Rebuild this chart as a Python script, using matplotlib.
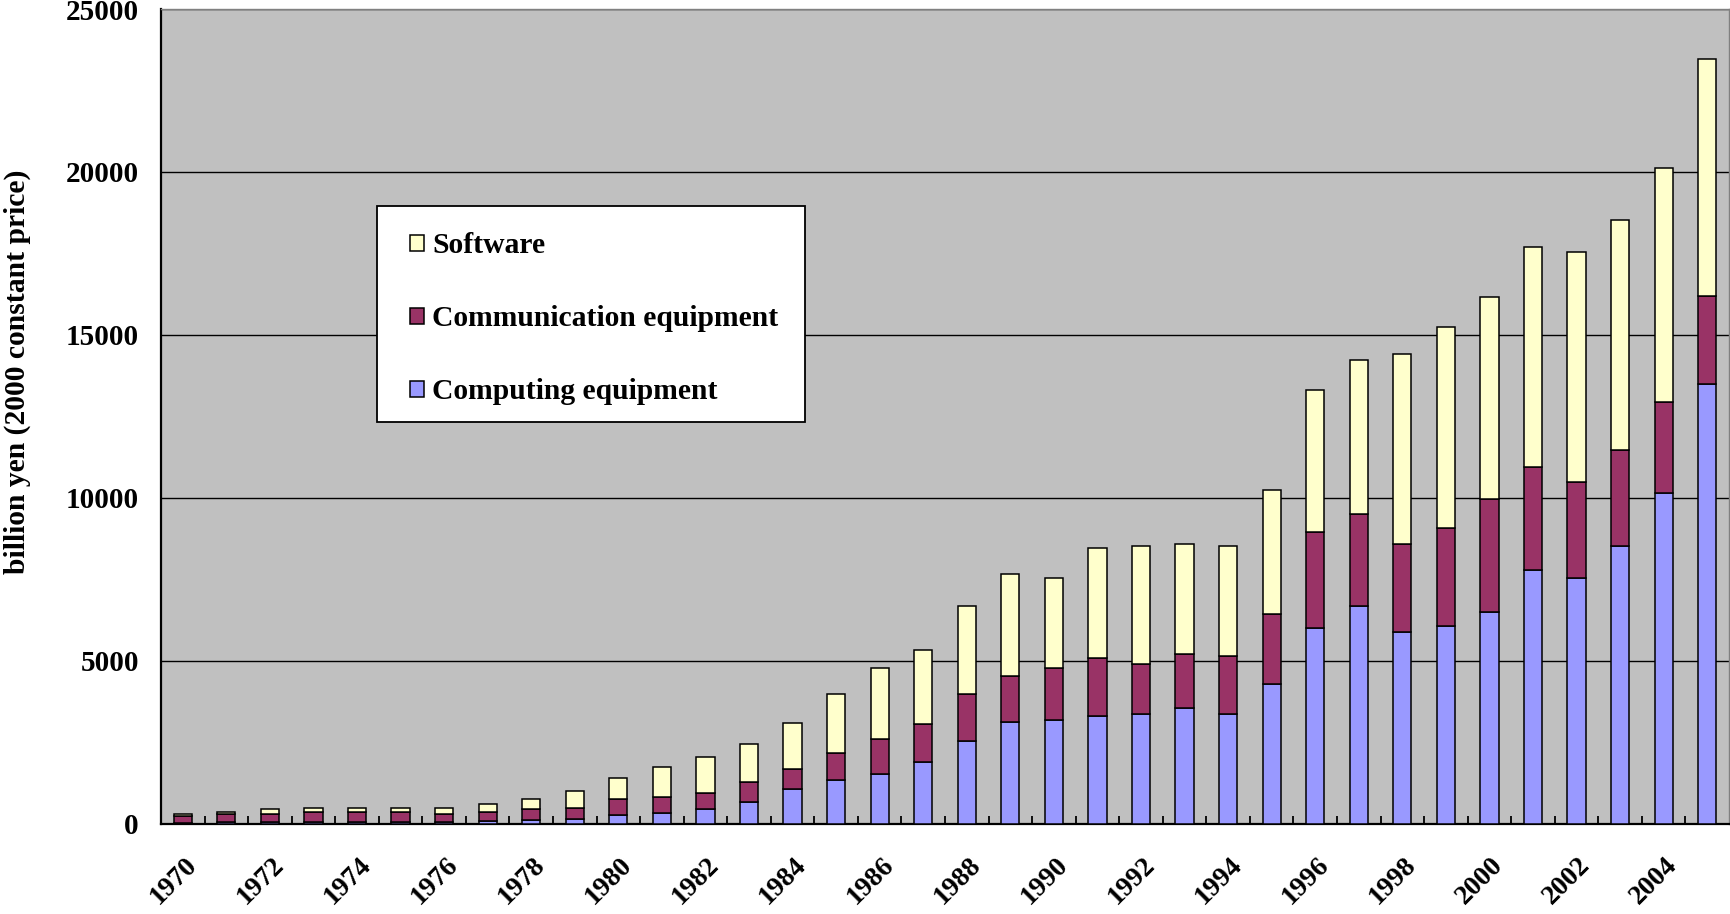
import matplotlib
matplotlib.use('Agg')
import matplotlib.pyplot as plt
from matplotlib.patches import Rectangle
from matplotlib.transforms import ScaledTranslation
import numpy as np

years = list(range(1970, 2006))
computing = [30, 60, 60, 60, 60, 60, 60, 80, 120, 130, 250, 310, 430, 670,
             1050, 1350, 1530, 1890, 2520, 3120, 3190, 3300, 3370, 3555, 3370,
             4290, 6000, 6680, 5890, 6070, 6500, 7790, 7540, 8520, 10130, 13480]
communication = [190, 220, 230, 280, 280, 280, 230, 270, 310, 350, 490, 490,
                 510, 610, 620, 800, 1050, 1170, 1460, 1410, 1580, 1770, 1530,
                 1655, 1770, 2145, 2950, 2820, 2680, 3000, 3450, 3140, 2950,
                 2950, 2820, 2700]
software = [80, 80, 140, 150, 150, 150, 200, 260, 330, 510, 670, 930, 1100,
            1170, 1400, 1840, 2200, 2270, 2710, 3130, 2770, 3390, 3610, 3360,
            3370, 3800, 4360, 4715, 5840, 6180, 6210, 6770, 7050, 7040, 7160,
            7290]
series_names = ['Computing equipment', 'Communication equipment', 'Software']
tick_years = years[::2]
y_ticks = [0, 5000, 10000, 15000, 20000, 25000]

plt.rcParams['font.family'] = ['Liberation Serif', 'DejaVu Serif']
plt.rcParams['font.weight'] = 'bold'

W, H = 1731, 914
fig = plt.figure(figsize=(W / 100, H / 100), dpi=100)
ax = fig.add_axes([161 / W, 1 - 823.5 / H, (1729 - 161) / W, (823.5 - 9) / H])
ax.set_facecolor('#C0C0C0')

x = np.array(years)
comp = np.array(computing)
comm = np.array(communication)
soft = np.array(software)
w = 0.42
kw = dict(edgecolor='black', linewidth=1.1, zorder=3)
b1 = ax.bar(x, comp, w, color='#9999FF', label=series_names[0], **kw)
b2 = ax.bar(x, comm, w, bottom=comp, color='#993366', label=series_names[1], **kw)
b3 = ax.bar(x, soft, w, bottom=comp + comm, color='#FFFFCC', label=series_names[2], **kw)

ax.set_xlim(1969.5, 2005.5)
ax.set_ylim(0, 25000)
ax.set_yticks(y_ticks)
ax.set_yticklabels([str(v) for v in y_ticks], fontsize=21, fontweight='bold')
ax.yaxis.grid(True, color='black', linewidth=1.0)
ax.set_axisbelow(True)
ax.tick_params(axis='y', length=0, pad=16)

ax.set_xticks(tick_years)
ax.set_xticklabels([str(v) for v in tick_years], rotation=45, ha='right',
                   va='top', fontsize=20, fontweight='bold')
ax.set_xticks(np.arange(1970.5, 2005, 1.0), minor=True)
ax.tick_params(axis='x', which='major', length=0, pad=21)
ax.tick_params(axis='x', which='minor', direction='in', length=5.5, width=1.3,
               color='black')
offset = ScaledTranslation(0.19, 0, fig.dpi_scale_trans)
for lab in ax.get_xticklabels():
    lab.set_transform(lab.get_transform() + offset)

for s in ['left', 'bottom']:
    ax.spines[s].set_color('black')
    ax.spines[s].set_linewidth(1.6)
for s in ['top', 'right']:
    ax.spines[s].set_color('#808080')
    ax.spines[s].set_linewidth(1.0)

ax.set_ylabel('billion yen (2000 constant price)', fontsize=21.3, fontweight='bold')
ax.yaxis.set_label_coords(-0.083, 0.554)

box = Rectangle((0.1378, 0.493), 0.273, 0.265, transform=ax.transAxes,
                facecolor='white', edgecolor='black', linewidth=1.3, zorder=4)
ax.add_patch(box)
leg = ax.legend(handles=[b3, b2, b1],
                labels=[series_names[2], series_names[1], series_names[0]],
                loc='upper left', bbox_to_anchor=(0.1588, 0.7256),
                frameon=False, borderpad=0, borderaxespad=0, handlelength=0.46,
                handleheight=0.46, handletextpad=0.3, labelspacing=1.55,
                prop={'family': 'Liberation Serif', 'weight': 'bold', 'size': 21.3})
leg.set_zorder(5)

fig.savefig('out.png', dpi=100)
